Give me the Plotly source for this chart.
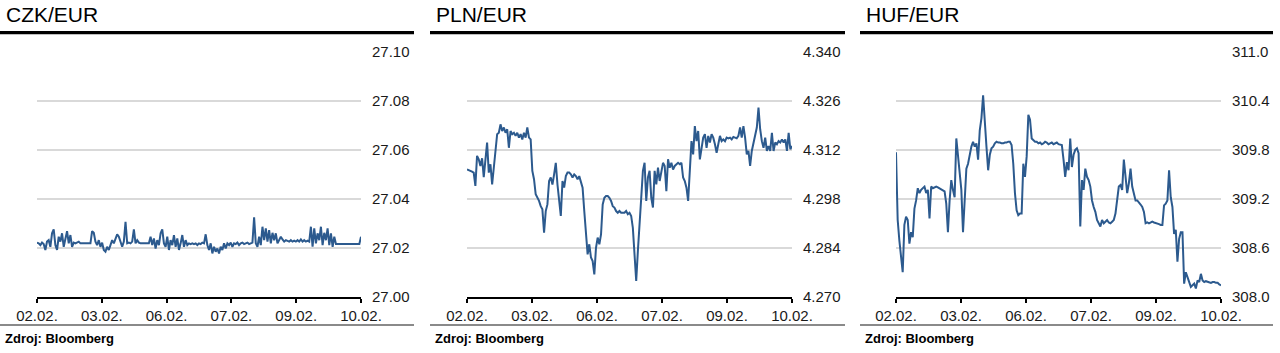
import numpy as np
import plotly.graph_objects as go

# ---------------- data ----------------
x_labels = ["02.02.", "03.02.", "06.02.", "07.02.", "09.02.", "10.02."]

czk_titles = "CZK/EUR"
pln_titles = "PLN/EUR"
huf_titles = "HUF/EUR"

czk_ticks = [27.00, 27.02, 27.04, 27.06, 27.08, 27.10]
pln_ticks = [4.270, 4.284, 4.298, 4.312, 4.326, 4.340]
huf_ticks = [308.0, 308.6, 309.2, 309.8, 310.4, 311.0]

czk = [
    27.0221, 27.0218, 27.0211, 27.0221, 27.0215, 27.0191, 27.0225, 27.0231, 27.0204, 27.0259,
    27.0275, 27.0211, 27.0191, 27.0245, 27.0225, 27.0259, 27.0204, 27.0245, 27.0268, 27.0218,
    27.0252, 27.0204, 27.0221, 27.0218, 27.0221, 27.0225, 27.0218, 27.0218, 27.0218, 27.0218,
    27.0218, 27.0218, 27.0218, 27.0268, 27.0261, 27.0225, 27.0211, 27.0231, 27.0204, 27.0221,
    27.0191, 27.0184, 27.0204, 27.0191, 27.0211, 27.0231, 27.0218, 27.0238, 27.0255, 27.0245,
    27.0221, 27.0204, 27.0225, 27.0306, 27.0218, 27.0221, 27.0218, 27.0225, 27.0275, 27.0218,
    27.0231, 27.0221, 27.0218, 27.0218, 27.0218, 27.0218, 27.0221, 27.0218, 27.0245, 27.0211,
    27.0238, 27.0197, 27.0231, 27.0211, 27.0259, 27.0275, 27.0218, 27.0204, 27.0245, 27.0191,
    27.0231, 27.0211, 27.0252, 27.0204, 27.0238, 27.0191, 27.0218, 27.0252, 27.0204, 27.0231,
    27.0211, 27.0218, 27.0215, 27.0218, 27.0215, 27.0218, 27.0211, 27.0218, 27.0215, 27.0221,
    27.0218, 27.0255, 27.0211, 27.0191, 27.0218, 27.0177, 27.0204, 27.0184, 27.0197, 27.0177,
    27.0204, 27.0191, 27.0218, 27.0197, 27.0218, 27.0211, 27.0221, 27.0204, 27.0218, 27.0215,
    27.0221, 27.0211, 27.0218, 27.0221, 27.0215, 27.0218, 27.0221, 27.0215, 27.0218, 27.0221,
    27.0324, 27.0218, 27.0204, 27.0245, 27.0211, 27.0286, 27.0231, 27.0279, 27.0225, 27.0272,
    27.0218, 27.0261, 27.0231, 27.0259, 27.0218, 27.0231, 27.0245, 27.0234, 27.0225, 27.0231,
    27.0229, 27.0225, 27.0231, 27.0225, 27.0229, 27.0225, 27.0231, 27.0225, 27.0234, 27.0225,
    27.0231, 27.0225, 27.0229, 27.0225, 27.0286, 27.0204, 27.0279, 27.0218, 27.0259, 27.0231,
    27.0286, 27.0211, 27.0261, 27.0231, 27.0279, 27.0211, 27.0259, 27.0204, 27.0245, 27.0215,
    27.0215, 27.0215, 27.0215, 27.0215, 27.0215, 27.0215, 27.0215, 27.0215, 27.0215, 27.0215,
    27.0215, 27.0215, 27.0215, 27.0215, 27.0245,
]

pln = [
    4.3064, 4.3062, 4.3062, 4.3058, 4.3055, 4.3017, 4.3103, 4.3093, 4.3074, 4.3096,
    4.3042, 4.3083, 4.3141, 4.3055, 4.3079, 4.3021, 4.3069, 4.3126, 4.3165, 4.3169,
    4.3193, 4.3174, 4.3184, 4.3169, 4.3179, 4.3126, 4.3174, 4.3165, 4.3169, 4.3160,
    4.3169, 4.3155, 4.3165, 4.3150, 4.3169, 4.3155, 4.3184, 4.3155, 4.3150, 4.3060,
    4.3036, 4.2993, 4.2983, 4.2974, 4.2959, 4.2950, 4.2883, 4.2945, 4.2964, 4.3031,
    4.3041, 4.3021, 4.3050, 4.3083, 4.3021, 4.2974, 4.2931, 4.3031, 4.3012, 4.3045,
    4.3055, 4.3055, 4.3050, 4.3041, 4.3050, 4.3045, 4.3036, 4.3045, 4.3031, 4.3012,
    4.2945, 4.2869, 4.2821, 4.2850, 4.2812, 4.2802, 4.2764, 4.2840, 4.2869, 4.2850,
    4.2878, 4.2964, 4.2983, 4.2988, 4.2988, 4.2983, 4.2974, 4.2959, 4.2955, 4.2945,
    4.2940, 4.2945, 4.2940, 4.2940, 4.2940, 4.2945, 4.2936, 4.2940, 4.2931, 4.2897,
    4.2821, 4.2745, 4.2831, 4.2926, 4.2983, 4.3060, 4.3083, 4.2974, 4.3041, 4.3060,
    4.2983, 4.2955, 4.3060, 4.3021, 4.3069, 4.3031, 4.3064, 4.3083, 4.3074, 4.3002,
    4.3093, 4.3069, 4.3083, 4.3064, 4.3074, 4.3079, 4.3083, 4.3079, 4.3083, 4.3041,
    4.3031, 4.3012, 4.2974, 4.3060, 4.3145, 4.3107, 4.3188, 4.3145, 4.3174, 4.3093,
    4.3126, 4.3155, 4.3165, 4.3126, 4.3160, 4.3141, 4.3165, 4.3155, 4.3136, 4.3112,
    4.3136, 4.3160, 4.3145, 4.3150, 4.3145, 4.3155, 4.3153, 4.3155, 4.3150, 4.3157,
    4.3155, 4.3153, 4.3160, 4.3184, 4.3155, 4.3188, 4.3155, 4.3107, 4.3117, 4.3074,
    4.3117, 4.3141, 4.3165, 4.3184, 4.3241, 4.3179, 4.3145, 4.3126, 4.3155, 4.3117,
    4.3131, 4.3117, 4.3169, 4.3117, 4.3141, 4.3136, 4.3145, 4.3141, 4.3150, 4.3141,
    4.3150, 4.3117, 4.3169, 4.3122, 4.3131,
]

huf = [
    309.77, 308.94, 308.69, 308.53, 308.30, 308.88, 308.98, 308.94, 308.65, 308.79,
    308.73, 309.08, 309.18, 309.33, 309.27, 309.31, 309.33, 309.35, 309.27, 309.31,
    308.96, 309.35, 309.33, 309.34, 309.35, 309.34, 309.33, 309.31, 309.31, 309.29,
    309.14, 308.79, 309.18, 309.43, 309.31, 309.22, 309.94, 309.72, 309.59, 309.31,
    308.79, 309.27, 309.57, 309.63, 309.76, 309.84, 309.90, 309.84, 309.88, 309.68,
    310.04, 310.19, 310.47, 310.21, 309.84, 309.55, 309.74, 309.82, 309.84, 309.88,
    309.90, 309.89, 309.89, 309.88, 309.88, 309.89, 309.89, 309.90, 309.90, 309.86,
    309.63, 309.27, 309.06, 309.00, 309.02, 309.02, 309.63, 309.47, 309.72, 310.23,
    310.17, 309.94, 309.92, 309.90, 309.90, 309.88, 309.89, 309.87, 309.88, 309.90,
    309.89, 309.87, 309.88, 309.89, 309.87, 309.88, 309.89, 309.87, 309.86, 309.86,
    309.68, 309.47, 309.65, 309.55, 309.94, 309.59, 309.74, 309.80, 309.82, 309.76,
    308.86, 309.43, 309.31, 309.57, 309.47, 309.43, 309.35, 309.18, 309.10, 309.04,
    308.94, 308.90, 308.86, 308.94, 308.90, 308.92, 308.94, 308.91, 308.90, 308.92,
    308.94, 309.02, 309.18, 309.35, 309.37, 309.31, 309.68, 309.43, 309.27, 309.39,
    309.57, 309.35, 309.25, 309.18, 309.18, 309.16, 309.13, 309.10, 309.04, 308.90,
    308.91, 308.90, 308.91, 308.92, 308.91, 308.90, 308.89, 308.89, 308.88, 308.88,
    309.12, 309.14, 309.18, 309.55, 309.22, 309.10, 308.77, 308.82, 308.43, 308.71,
    308.79, 308.79, 308.16, 308.30, 308.24, 308.18, 308.12, 308.14, 308.16, 308.10,
    308.20, 308.18, 308.28, 308.20, 308.18, 308.19, 308.18, 308.17, 308.17, 308.18,
    308.18, 308.17, 308.17, 308.15, 308.14,
]

# ---------------- styling / layout ----------------
W, H = 1280, 353
FONT = "Liberation Sans, Arial, Helvetica, sans-serif"
LINE_COLOR = "#2c5a8e"
GRID_COLOR = "#d9d9d9"

panels = [
    dict(title=czk_titles, data=czk, ticks=czk_ticks, fmt="%.2f", left=0, right=414, px0=37, px1=361),
    dict(title=pln_titles, data=pln, ticks=pln_ticks, fmt="%.3f", left=430, right=845, px0=467, px1=792),
    dict(title=huf_titles, data=huf, ticks=huf_ticks, fmt="%.1f", left=860, right=1273, px0=896, px1=1221),
]

Y_TOP, Y_BOT = 52, 296.7

def py(y):
    return 1 - y / H

def pxx(x):
    return x / W

fig = go.Figure()
shapes = []
annotations = []
layout_axes = {}

for i, p in enumerate(panels, start=1):
    n = len(p["data"])
    t = np.linspace(0, len(x_labels) - 1, n)
    xa = "x" if i == 1 else f"x{i}"
    ya = "y" if i == 1 else f"y{i}"
    fig.add_trace(go.Scatter(
        x=t, y=p["data"], mode="lines", xaxis=xa, yaxis=ya,
        line=dict(color=LINE_COLOR, width=2), showlegend=False, hoverinfo="skip",
    ))
    xk = "xaxis" if i == 1 else f"xaxis{i}"
    yk = "yaxis" if i == 1 else f"yaxis{i}"
    layout_axes[xk] = dict(
        domain=[pxx(p["px0"]), pxx(p["px1"])], anchor=ya, range=[0, len(x_labels) - 1],
        tickvals=list(range(len(x_labels))), ticktext=x_labels,
        showline=True, linecolor="black", linewidth=2,
        ticks="outside", ticklen=4, tickwidth=2, tickcolor="black",
        showgrid=False, zeroline=False, automargin=False,
        tickfont=dict(family=FONT, size=15, color="#1a1a1a"),
    )
    layout_axes[yk] = dict(
        domain=[py(Y_BOT), py(Y_TOP)], anchor=xa, side="right",
        range=[p["ticks"][0], p["ticks"][-1]],
        tickvals=p["ticks"], ticktext=[p["fmt"] % v for v in p["ticks"]],
        showline=False, ticks="", showgrid=True, gridcolor=GRID_COLOR, gridwidth=2,
        zeroline=False, ticklabelstandoff=10, automargin=False,
        tickfont=dict(family=FONT, size=15, color="#1a1a1a"),
    )
    # title
    annotations.append(dict(
        text=p["title"], xref="paper", yref="paper", x=pxx(p["left"] + 4), y=py(15),
        xanchor="left", yanchor="middle", showarrow=False,
        font=dict(family=FONT, size=21, color="black"),
    ))
    # source
    annotations.append(dict(
        text="<b>Zdroj: Bloomberg</b>", xref="paper", yref="paper", x=pxx(p["left"] + 3), y=py(338.5),
        xanchor="left", yanchor="middle", showarrow=False,
        font=dict(family=FONT, size=13, color="black"),
    ))
    # thick black rule under title
    shapes.append(dict(type="rect", xref="paper", yref="paper",
                       x0=pxx(p["left"]), x1=pxx(p["right"]), y0=py(34.3), y1=py(31),
                       fillcolor="black", line=dict(width=0), layer="above"))
    # grey rule above source
    shapes.append(dict(type="rect", xref="paper", yref="paper",
                       x0=pxx(p["left"]), x1=pxx(p["right"]), y0=py(326), y1=py(324),
                       fillcolor="#8a8a8a", line=dict(width=0), layer="above"))

fig.update_layout(
    width=W, height=H, autosize=False,
    margin=dict(l=0, r=0, t=0, b=0, pad=0, autoexpand=False),
    paper_bgcolor="white", plot_bgcolor="white",
    shapes=shapes, annotations=annotations, **layout_axes,
)

fig.write_html("out.html")
